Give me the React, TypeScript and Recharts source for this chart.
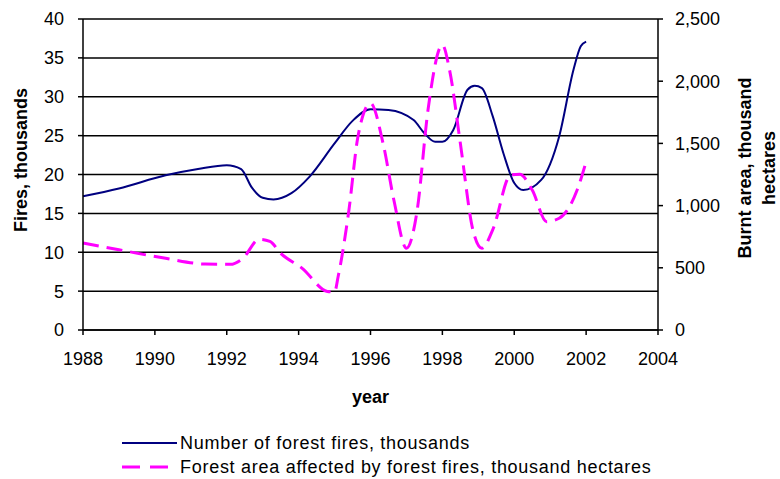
import React from 'react';
import { LineChart, Line, XAxis, YAxis, CartesianGrid, Label } from 'recharts';

const fireYears = [1988, 1989, 1990.3, 1991.2, 1992, 1992.4, 1992.7, 1993, 1993.3, 1993.8, 1994.3, 1995, 1995.5, 1996, 1996.5, 1997.2, 1997.5, 1997.8, 1998, 1998.3, 1998.7, 1998.9, 1999.1, 1999.4, 1999.7, 2000, 2000.25, 2000.75, 2001.25, 2001.65, 2001.85, 2002];
const fireValues = [17.2, 18.2, 19.9, 20.7, 21.2, 20.7, 18.3, 17.0, 16.8, 17.6, 19.7, 24.0, 26.9, 28.4, 28.3, 27.0, 25.3, 24.2, 24.2, 25.7, 30.9, 31.4, 31.1, 27.5, 22.7, 18.9, 18.0, 19.3, 24.9, 33.5, 36.5, 37.1];

const areaYears = [1988, 1989, 1990.3, 1991.4, 1992.1, 1992.45, 1992.9, 1993.2, 1993.5, 1994.1, 1994.8, 1995, 1995.1, 1995.4, 1995.65, 1996, 1996.35, 1996.65, 1997, 1997.3, 1997.6, 1998, 1998.2, 1998.5, 1998.85, 1999.1, 1999.4, 1999.9, 2000.15, 2000.5, 2000.9, 2001.25, 2001.75, 2002];
const areaValues = [700, 645, 576, 530, 528, 576, 729, 712, 617, 496, 310, 305, 430, 965, 1554, 1823, 1500, 1045, 657, 965, 1769, 2291, 2090, 1501, 804, 657, 804, 1246, 1252, 1125, 871, 898, 1125, 1353];

const yearTicks = [1988, 1990, 1992, 1994, 1996, 1998, 2000, 2002, 2004];
const fireTicks = [0, 5, 10, 15, 20, 25, 30, 35, 40];
const areaTicks = [0, 500, 1000, 1500, 2000, 2500];

const fireData = fireYears.map((year, i) => ({ year, fires: fireValues[i] }));
const areaData = areaYears.map((year, i) => ({ year, area: areaValues[i] }));

const FONT = '"Liberation Sans", Arial, sans-serif';
const tickStyle = { fill: '#000', fontSize: 18, fontFamily: FONT };
const titleStyle = { fill: '#000', fontSize: 18, fontWeight: 700, fontFamily: FONT };

export default function App() {
    return (
        <div style={{ position: 'absolute', left: 0, top: 0, width: 780, height: 479, background: '#fff', fontFamily: FONT }}>
            <LineChart width={780} height={479} margin={{ top: 19, right: 0, bottom: 69, left: 0 }}>
                <CartesianGrid vertical={false} stroke="#000" strokeWidth={1.5} yAxisId="left" />
                <XAxis
                    dataKey="year"
                    type="number"
                    domain={[1988, 2004]}
                    ticks={yearTicks}
                    allowDuplicatedCategory={false}
                    height={80}
                    stroke="#000"
                    strokeWidth={1.5}
                    tickSize={5}
                    tickMargin={17}
                    tick={tickStyle}
                >
                    <Label value="year" position="insideTop" offset={60} style={titleStyle} />
                </XAxis>
                <YAxis
                    yAxisId="left"
                    domain={[0, 40]}
                    ticks={fireTicks}
                    width={83}
                    stroke="#000"
                    strokeWidth={1.5}
                    tickSize={5}
                    tickMargin={14}
                    tick={tickStyle}
                >
                    <Label
                        content={() => (
                            <text x={21} y={160} transform="rotate(-90 21 160)" textAnchor="middle" dominantBaseline="central" style={titleStyle}>
                                Fires, thousands
                            </text>
                        )}
                    />
                </YAxis>
                <YAxis
                    yAxisId="right"
                    orientation="right"
                    domain={[0, 2500]}
                    ticks={areaTicks}
                    width={122}
                    stroke="#000"
                    strokeWidth={1.5}
                    tickSize={5}
                    tickMargin={12}
                    tick={tickStyle}
                    tickFormatter={(v: number) => v.toLocaleString('en-US')}
                >
                    <Label
                        content={() => (
                            <g style={titleStyle}>
                                <text x={745} y={168} transform="rotate(-90 745 168)" textAnchor="middle" dominantBaseline="central">
                                    Burnt area, thousand
                                </text>
                                <text x={769} y={168} transform="rotate(-90 769 168)" textAnchor="middle" dominantBaseline="central">
                                    hectares
                                </text>
                            </g>
                        )}
                    />
                </YAxis>
                <Line
                    yAxisId="left"
                    data={fireData}
                    dataKey="fires"
                    type="monotone"
                    stroke="#000080"
                    strokeWidth={2}
                    dot={false}
                    isAnimationActive={false}
                />
                <Line
                    yAxisId="right"
                    data={areaData}
                    dataKey="area"
                    type="monotone"
                    stroke="#ff00ff"
                    strokeWidth={3}
                    strokeDasharray="16 8"
                    dot={false}
                    isAnimationActive={false}
                />
            </LineChart>
            {/* legend drawn by hand, two rows under the axis title */}
            <div style={{ position: 'absolute', left: 120, top: 431, fontSize: 18, letterSpacing: 0.72, color: '#000', lineHeight: '24px' }}>
                <div style={{ display: 'flex', alignItems: 'center' }}>
                    <svg width={60} height={24}>
                        <line x1={2} y1={12} x2={57} y2={12} stroke="#000080" strokeWidth={2} />
                    </svg>
                    <span>Number of forest fires, thousands</span>
                </div>
                <div style={{ display: 'flex', alignItems: 'center' }}>
                    <svg width={60} height={24}>
                        <line x1={2} y1={12} x2={50} y2={12} stroke="#ff00ff" strokeWidth={3} strokeDasharray="18 10" />
                    </svg>
                    <span>Forest area affected by forest fires, thousand hectares</span>
                </div>
            </div>
        </div>
    );
}
